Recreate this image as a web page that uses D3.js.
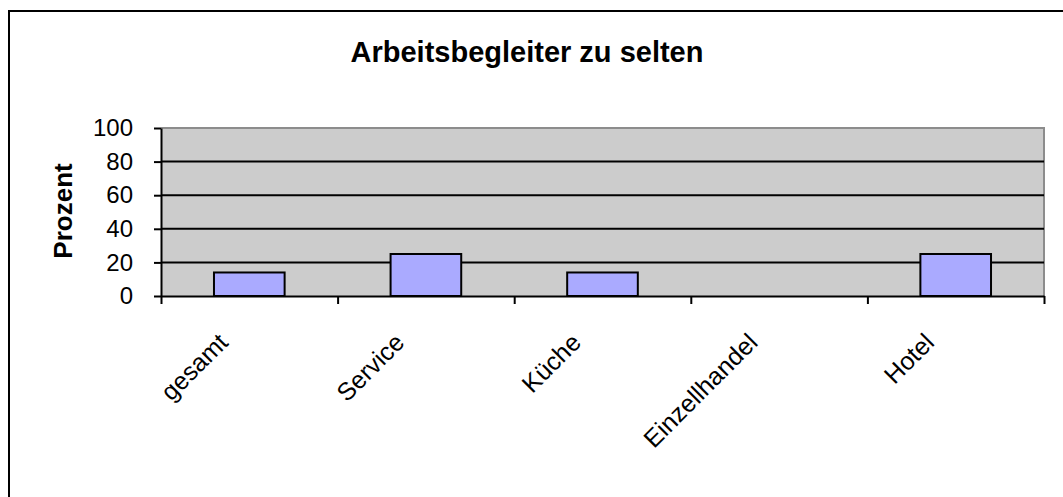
<!DOCTYPE html>
<html lang="de">
  <head>
    <meta charset="utf-8">
    <title>Arbeitsbegleiter zu selten</title>
    <script src="https://d3js.org/d3.v7.min.js"></script>
    <style>
      body
      {
        margin: 0;
        background: #fff;
      }
      svg
      {
        display: block;
        font-family: "Liberation Sans", Arial, sans-serif;
      }
    </style>
  </head>
  <body>
    <svg width="1063" height="497"></svg>

    <script>
      // values
      var categories = ["gesamt", "Service", "Küche", "Einzellhandel", "Hotel"];
      var values = [14, 25, 14, 0, 25];
      var yTicks = [0, 20, 40, 60, 80, 100];
      var title = "Arbeitsbegleiter zu selten";
      var yTitle = "Prozent";

      var svg = d3.select("svg");
      var plotLeft = 161, plotRight = 1044, plotTop = 128, plotBottom = 296;

      var y = d3.scaleLinear().domain([0, 100]).range([plotBottom, plotTop]);
      var x = d3.scaleBand().domain(categories).range([plotLeft, plotRight])
                .paddingInner(0.6).paddingOuter(0.3);
      var xEdge = d3.scaleLinear().domain([0, categories.length]).range([plotLeft, plotRight]);

      // outer frame
      svg.append("rect").attr("x", 9).attr("y", 11)
         .attr("width", 1200).attr("height", 800)
         .attr("fill", "none").attr("stroke", "#000").attr("stroke-width", 2);

      // plot area
      svg.append("rect").attr("x", plotLeft).attr("y", plotTop)
         .attr("width", plotRight - plotLeft).attr("height", plotBottom - plotTop)
         .attr("fill", "#cccccc");
      svg.append("path")
         .attr("d", "M" + plotLeft + "," + plotTop + "H" + plotRight + "V" + plotBottom)
         .attr("fill", "none").attr("stroke", "#8c8c8c").attr("stroke-width", 2);

      // gridlines
      svg.append("g").selectAll("line")
         .data(yTicks.filter(function(d){return d > 0 && d < 100;}))
         .enter().append("line")
         .attr("x1", plotLeft).attr("x2", plotRight)
         .attr("y1", function(d){return y(d);})
         .attr("y2", function(d){return y(d);})
         .attr("stroke", "#000").attr("stroke-width", 2);

      // bars (zero values get no box)
      var barIndex = d3.range(values.length).filter(function(i){return values[i] > 0;});
      svg.append("g").selectAll("rect")
         .data(barIndex).enter().append("rect")
         .attr("x", function(i){return x(categories[i]);})
         .attr("y", function(i){return y(values[i]);})
         .attr("width", x.bandwidth())
         .attr("height", function(i){return y(0) - y(values[i]);})
         .attr("fill", "#aaaaff")
         .attr("stroke", "#000").attr("stroke-width", 2);

      // y axis
      var yAxis = svg.append("g").attr("transform", "translate(" + plotLeft + ",0)")
         .call(d3.axisLeft(y).tickValues(yTicks).tickSize(7).tickSizeOuter(0).tickPadding(21));
      yAxis.select(".domain").attr("stroke-width", 2);
      yAxis.selectAll(".tick line").attr("stroke-width", 2);
      yAxis.selectAll("text").attr("font-size", 24).attr("fill", "#000")
           .attr("font-family", "Liberation Sans, Arial, sans-serif");

      // x axis, ticks at category edges
      var xAxis = svg.append("g").attr("transform", "translate(0," + plotBottom + ")")
         .call(d3.axisBottom(xEdge).tickValues(d3.range(categories.length + 1))
                 .tickSize(8).tickSizeOuter(0).tickFormat(""));
      xAxis.select(".domain").attr("stroke-width", 2);
      xAxis.selectAll(".tick line").attr("stroke-width", 2);

      // category labels
      svg.append("g").selectAll("text")
         .data(categories).enter().append("text")
         .attr("transform", function(d){
           return "translate(" + (x(d) + x.bandwidth() / 2 - 20) + ",344) rotate(-45)";
         })
         .attr("text-anchor", "end")
         .attr("font-size", 25)
         .text(function(d){return d;});

      // titles
      svg.append("text").attr("x", 527).attr("y", 62)
         .attr("text-anchor", "middle").attr("font-size", 29).attr("font-weight", "bold")
         .text(title);
      svg.append("text")
         .attr("transform", "translate(72,211) rotate(-90)")
         .attr("text-anchor", "middle").attr("font-size", 26).attr("font-weight", "bold")
         .text(yTitle);
    </script>
  </body>
</html>
